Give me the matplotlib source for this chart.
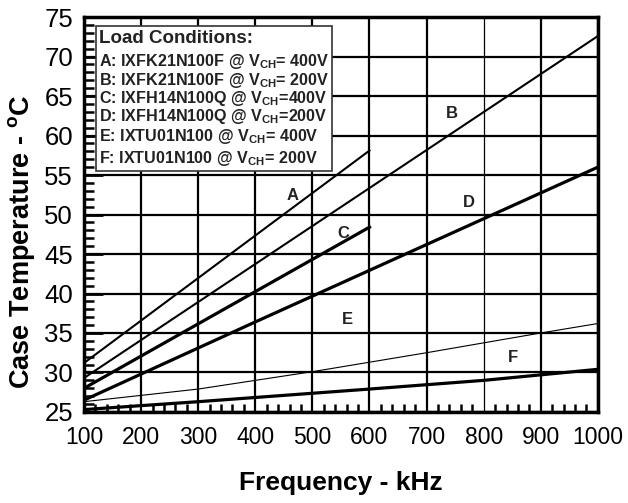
import numpy as np
import matplotlib
matplotlib.use("Agg")
from matplotlib import pyplot as plt
from matplotlib.ticker import MultipleLocator

plt.rcParams['font.family'] = ['Liberation Sans', 'DejaVu Sans']
plt.rcParams['mathtext.fontset'] = 'custom'
plt.rcParams['mathtext.rm'] = 'Liberation Sans'
plt.rcParams['mathtext.bf'] = 'Liberation Sans:bold'

# ==============================================
# data (kHz, degC)

freq_a = [100, 600]
temp_a = [31.2, 58.1]
freq_b = [100, 1000]
temp_b = [29.3, 72.6]
freq_c = [100, 600]
temp_c = [28.0, 48.4]
freq_d = [100, 400, 1000]
temp_d = [26.5, 36.4, 56.0]
freq_e = [100, 300, 500, 700, 900, 1000]
temp_e = [26.3, 27.9, 30.1, 32.5, 35.0, 36.2]
freq_f = [100, 300, 600, 800, 1000]
temp_f = [25.3, 26.3, 27.9, 29.0, 30.4]

curve_names = ['A', 'B', 'C', 'D', 'E', 'F']
label_freq = [466, 744, 554, 774, 561, 851]
label_temp = [52.4, 62.8, 47.6, 51.5, 36.7, 31.9]

load_title = 'Load Conditions:'
load_lines = [
    r'A: IXFK21N100F @ V$_{\mathbf{CH}}$= 400V',
    r'B: IXFK21N100F @ V$_{\mathbf{CH}}$= 200V',
    r'C: IXFH14N100Q @ V$_{\mathbf{CH}}$=400V',
    r'D: IXFH14N100Q @ V$_{\mathbf{CH}}$=200V',
    r'E: IXTU01N100 @ V$_{\mathbf{CH}}$= 400V',
    r'F: IXTU01N100 @ V$_{\mathbf{CH}}$= 200V',
]

x_ticks = np.arange(100, 1001, 100)
y_ticks = np.arange(25, 76, 5)

# ==============================================

fig = plt.figure(figsize=(6.28, 5.03), dpi=100)
ax = fig.add_axes([0.1338, 0.181, 0.8182, 0.785])

ax.plot(freq_a, temp_a, color='k', lw=1.5, zorder=3)
ax.plot(freq_b, temp_b, color='k', lw=1.5, zorder=3)
ax.plot(freq_c, temp_c, color='k', lw=2.3, zorder=3)
ax.plot(freq_d, temp_d, color='k', lw=2.3, zorder=3)
ax.plot(freq_e, temp_e, color='k', lw=0.8, zorder=3)
ax.plot(freq_f, temp_f, color='k', lw=2.3, zorder=3)

for name, fx, ty in zip(curve_names, label_freq, label_temp):
    ax.text(fx, ty, name, fontsize=12, fontweight='bold', ha='center', va='center', color='#222222')

ax.set_xlim(100, 1000)
ax.set_ylim(25, 75)
ax.set_xticks(x_ticks)
ax.set_yticks(y_ticks)
ax.xaxis.set_minor_locator(MultipleLocator(20))
ax.yaxis.set_minor_locator(MultipleLocator(1))

ax.tick_params(axis='x', which='major', direction='in', length=0, labelsize=16.5, pad=10)
ax.tick_params(axis='x', which='minor', direction='in', length=6, width=1.8)
ax.tick_params(axis='y', which='major', direction='in', length=14, width=2, labelsize=18.5, pad=8)
ax.tick_params(axis='y', which='minor', direction='in', length=7, width=1.8)

ax.grid(True, which='major', color='k', lw=1.6, zorder=1)
for tick_val, gl in zip(ax.get_xticks(), ax.get_xgridlines()):
    if tick_val == 800:
        gl.set_linewidth(0.9)

for sp in ax.spines.values():
    sp.set_linewidth(2.5)

ax.set_xlabel('Frequency - kHz', fontsize=19, fontweight='bold', labelpad=16)
ax.set_ylabel(r'Case Temperature - $^{\mathbf{o}}$C', fontsize=19.5, fontweight='bold')
ax.yaxis.set_label_coords(-0.092, 0.43)

# load conditions box
box = plt.Rectangle((121, 55.5), 413, 18.35, facecolor='white', edgecolor='#333333',
                    lw=1.2, zorder=4)
ax.add_patch(box)
ax.text(127, 72.3, load_title, fontsize=13.5, fontweight='bold', va='center', zorder=5, color='#222222')
line_temps = [69.4, 67.0, 64.7, 62.4, 59.9, 57.1]
for txt, ty in zip(load_lines, line_temps):
    ax.text(127, ty, txt, fontsize=11.6, fontweight='bold', va='center', zorder=5, color='#222222')

plt.savefig('out.png', dpi=100)
